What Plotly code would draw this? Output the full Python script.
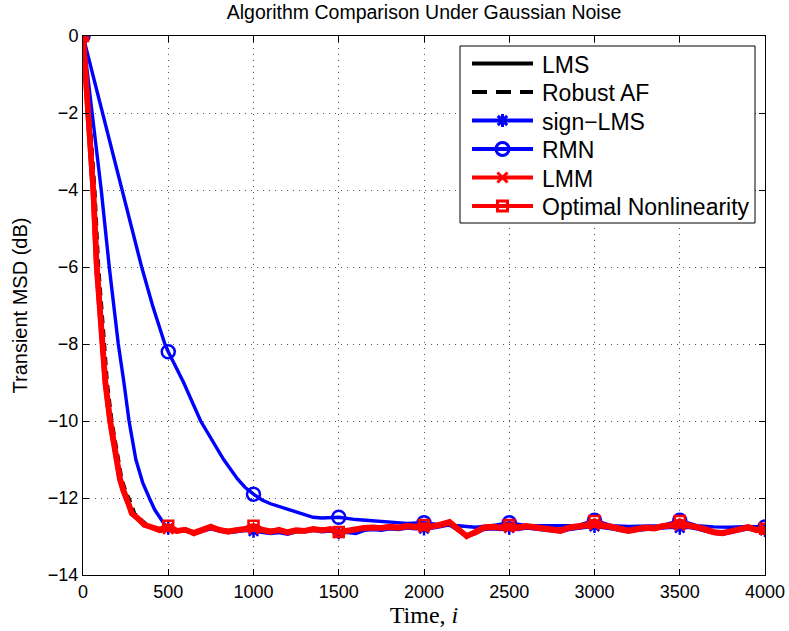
import plotly.graph_objects as go

# ---------------- data ----------------
TITLE = "Algorithm Comparison Under Gaussian Noise"
X_TICKS = [0, 500, 1000, 1500, 2000, 2500, 3000, 3500, 4000]
Y_TICKS = [-14, -12, -10, -8, -6, -4, -2, 0]
Y_TICKTEXT = ["\u221214", "\u221212", "\u221210", "\u22128", "\u22126", "\u22124", "\u22122", "0"]

TAIL_T = list(range(500, 4001, 50))

# Optimal Nonlinearity
opt_head_t = [0, 20, 40, 60, 80, 100, 113, 130, 158, 175, 193, 215, 235, 256, 270, 285, 300, 330, 360, 400, 450]
opt_head_y = [0, -1.3, -2.6, -4.0, -6.0, -7.2, -8.0, -9.0, -10.0, -10.5, -11.0, -11.5, -11.8, -12.0, -12.2,
              -12.4, -12.45, -12.55, -12.7, -12.75, -12.82]
opt_tail_y = [-12.72, -12.85, -12.83, -12.90, -12.82, -12.74, -12.84, -12.86, -12.83, -12.80,
              -12.72, -12.82, -12.86, -12.84, -12.88, -12.83, -12.85, -12.80, -12.83, -12.82,
              -12.88, -12.84, -12.80, -12.77, -12.76, -12.78, -12.74, -12.76, -12.72, -12.74,
              -12.70, -12.73, -12.68, -12.62, -12.80, -13.00, -12.88, -12.76, -12.74, -12.76,
              -12.70, -12.76, -12.72, -12.75, -12.78, -12.80, -12.84, -12.76, -12.72, -12.70,
              -12.60, -12.70, -12.74, -12.80, -12.84, -12.80, -12.76, -12.78, -12.72, -12.70,
              -12.60, -12.70, -12.74, -12.80, -12.88, -12.90, -12.86, -12.82, -12.75, -12.82,
              -12.80]

# LMM
lmm_head_t = [0, 20, 40, 60, 80, 100, 115, 132, 160, 178, 196, 218, 238, 258, 272, 288, 300, 330, 360, 400, 450]
lmm_head_y = [0, -1.3, -2.6, -4.0, -5.9, -7.1, -8.0, -9.0, -10.0, -10.5, -11.0, -11.5, -11.8, -12.0, -12.2,
              -12.4, -12.45, -12.58, -12.7, -12.76, -12.84]
lmm_tail_y = [-12.80, -12.86, -12.82, -12.92, -12.84, -12.76, -12.82, -12.88, -12.84, -12.82,
              -12.80, -12.84, -12.88, -12.82, -12.90, -12.85, -12.86, -12.82, -12.84, -12.80,
              -12.90, -12.86, -12.82, -12.78, -12.78, -12.76, -12.76, -12.78, -12.74, -12.76,
              -12.76, -12.74, -12.70, -12.64, -12.82, -12.98, -12.90, -12.78, -12.76, -12.78,
              -12.76, -12.78, -12.74, -12.77, -12.80, -12.82, -12.86, -12.78, -12.74, -12.72,
              -12.70, -12.72, -12.76, -12.82, -12.86, -12.82, -12.78, -12.80, -12.74, -12.72,
              -12.72, -12.72, -12.76, -12.82, -12.90, -12.92, -12.88, -12.84, -12.77, -12.84,
              -12.82]

# LMS
lms_head_t = [0, 20, 40, 62, 82, 102, 116, 134, 162, 180, 198, 220, 240, 260, 275, 290, 305, 335, 365, 405, 450]
lms_head_y = [0, -1.3, -2.6, -4.0, -5.9, -7.1, -8.0, -9.0, -10.0, -10.5, -11.0, -11.5, -11.8, -12.0, -12.2,
              -12.4, -12.47, -12.6, -12.7, -12.76, -12.82]
lms_tail_y = [-12.82, -12.84, -12.84, -12.88, -12.82, -12.78, -12.84, -12.86, -12.82, -12.80,
              -12.82, -12.82, -12.86, -12.84, -12.88, -12.84, -12.84, -12.80, -12.84, -12.82,
              -12.86, -12.84, -12.80, -12.78, -12.76, -12.78, -12.74, -12.76, -12.73, -12.74,
              -12.74, -12.73, -12.69, -12.64, -12.80, -12.98, -12.88, -12.77, -12.74, -12.76,
              -12.74, -12.76, -12.72, -12.75, -12.78, -12.80, -12.84, -12.76, -12.73, -12.71,
              -12.68, -12.71, -12.74, -12.80, -12.84, -12.80, -12.76, -12.78, -12.73, -12.71,
              -12.70, -12.71, -12.74, -12.80, -12.88, -12.90, -12.86, -12.82, -12.76, -12.82,
              -12.80]

# Robust AF
rob_head_t = [0, 25, 50, 72, 94, 115, 128, 145, 172, 190, 208, 230, 252, 272, 290, 305, 320, 350, 380, 420, 460]
rob_head_y = [0, -1.3, -2.6, -4.0, -6.0, -7.2, -8.0, -9.0, -10.0, -10.5, -11.0, -11.5, -11.8, -12.0, -12.2,
              -12.4, -12.45, -12.58, -12.7, -12.76, -12.82]
rob_tail_y = [-12.80, -12.84, -12.84, -12.88, -12.82, -12.78, -12.84, -12.86, -12.82, -12.80,
              -12.80, -12.82, -12.86, -12.84, -12.88, -12.84, -12.84, -12.80, -12.84, -12.82,
              -12.86, -12.84, -12.80, -12.78, -12.76, -12.78, -12.74, -12.76, -12.73, -12.74,
              -12.74, -12.73, -12.69, -12.64, -12.80, -12.98, -12.88, -12.77, -12.74, -12.76,
              -12.74, -12.76, -12.72, -12.75, -12.78, -12.80, -12.84, -12.76, -12.73, -12.71,
              -12.68, -12.71, -12.74, -12.80, -12.84, -12.80, -12.76, -12.78, -12.73, -12.71,
              -12.70, -12.71, -12.74, -12.80, -12.88, -12.90, -12.86, -12.82, -12.76, -12.82,
              -12.80]

# sign-LMS
sgn_head_t = [0, 55, 107, 154, 207, 240, 270, 310, 350, 389, 420, 450, 480]
sgn_head_y = [0, -2.0, -4.0, -6.0, -8.0, -9.0, -10.0, -11.0, -11.6, -12.0, -12.3, -12.5, -12.7]
sgn_tail_y = [-12.78, -12.86, -12.86, -12.92, -12.86, -12.80, -12.86, -12.90, -12.88, -12.84,
              -12.86, -12.88, -12.92, -12.90, -12.94, -12.88, -12.88, -12.84, -12.88, -12.86,
              -12.90, -12.90, -12.92, -12.84, -12.82, -12.84, -12.80, -12.82, -12.78, -12.80,
              -12.80, -12.78, -12.74, -12.70, -12.84, -13.00, -12.92, -12.82, -12.80, -12.82,
              -12.78, -12.82, -12.78, -12.80, -12.84, -12.84, -12.88, -12.82, -12.78, -12.76,
              -12.74, -12.76, -12.80, -12.84, -12.88, -12.84, -12.82, -12.82, -12.78, -12.76,
              -12.78, -12.76, -12.80, -12.86, -12.92, -12.94, -12.90, -12.86, -12.80, -12.86,
              -12.84]

# RMN
rmn_t = [0, 115, 230, 290, 344, 408, 480, 500, 590, 690, 755, 825, 905, 950, 1000, 1050, 1100, 1150, 1200,
         1250, 1300, 1350, 1400, 1450, 1500, 1600, 1700, 1800, 1900, 2000, 2100, 2200, 2300, 2400,
         2500, 2600, 2700, 2800, 2900, 3000, 3100, 3200, 3300, 3400, 3500, 3600, 3700, 3800, 3900, 4000]
rmn_y = [0, -2.0, -4.0, -5.0, -6.0, -7.0, -8.0, -8.2, -9.0, -10.0, -10.5, -11.0, -11.5, -11.72, -11.9,
         -12.05, -12.15, -12.22, -12.3, -12.36, -12.44, -12.5, -12.52, -12.52, -12.5, -12.56, -12.6,
         -12.63, -12.66, -12.64, -12.7, -12.72, -12.76, -12.72, -12.64, -12.72, -12.72, -12.74, -12.72,
         -12.58, -12.72, -12.74, -12.73, -12.72, -12.58, -12.72, -12.75, -12.76, -12.74, -12.75]

SERIES = [
    # name, t, y, color, width, dash, marker symbol, marker size
    ("LMS", lms_head_t + TAIL_T, lms_head_y + lms_tail_y, "black", 3, "solid", None, 0),
    ("Robust AF", rob_head_t + TAIL_T, rob_head_y + rob_tail_y, "black", 2.5, "8px,6px", None, 0),
    ("sign\u2212LMS", sgn_head_t + TAIL_T, sgn_head_y + sgn_tail_y, "#0000ff", 3.4, "solid", "asterisk-open", 11),
    ("RMN", rmn_t, rmn_y, "#0000ff", 3.4, "solid", "circle-open", 13),
    ("LMM", lmm_head_t + TAIL_T, lmm_head_y + lmm_tail_y, "#ff0000", 5.5, "solid", "x-thin-open", 10),
    ("Optimal Nonlinearity", opt_head_t + TAIL_T, opt_head_y + opt_tail_y, "#ff0000", 5.5, "solid", "square-open", 10),
]

FONT = "Liberation Sans, Arial, Helvetica, sans-serif"

# plot area in pixels (for the hand-drawn legend overlay)
PX_L, PX_R, PX_T, PX_B = 83, 765, 36, 575
LEG_BOX = (460, 755, 46, 223)
LEG_ROW0, LEG_ROWSTEP = 63.5, 28.5
LEG_LINE = (472, 533)
LEG_TEXT_X = 540

fig = go.Figure()
for name, t, y, color, width, dash, sym, msize in SERIES:
    fig.add_trace(go.Scatter(x=t, y=y, mode="lines", showlegend=False, hoverinfo="skip",
                             line=dict(color=color, width=width, dash=dash)))
    if sym:
        mt = [a for a in t if a % 500 == 0]
        my = [b for a, b in zip(t, y) if a % 500 == 0]
        fig.add_trace(go.Scatter(x=mt, y=my, mode="markers", showlegend=False,
                                 marker=dict(symbol=sym, size=msize, color=color,
                                             line=dict(color=color, width=2.5))))

# ---- legend box (overlay axes in pixel coordinates) ----
bx0, bx1, by0, by1 = LEG_BOX
fig.add_trace(go.Scatter(x=[bx0, bx1, bx1, bx0, bx0], y=[by0, by0, by1, by1, by0],
                         xaxis="x2", yaxis="y2", mode="lines", fill="toself",
                         fillcolor="white", line=dict(color="black", width=1),
                         showlegend=False, hoverinfo="skip"))
annotations = []
for k, (name, t, y, color, width, dash, sym, msize) in enumerate(SERIES):
    yc = LEG_ROW0 + k * LEG_ROWSTEP
    fig.add_trace(go.Scatter(x=list(LEG_LINE), y=[yc, yc], xaxis="x2", yaxis="y2", mode="lines",
                             line=dict(color=color, width=4,
                                       dash="15px,9px" if dash != "solid" else "solid"),
                             showlegend=False, hoverinfo="skip"))
    if sym:
        fig.add_trace(go.Scatter(x=[(LEG_LINE[0] + LEG_LINE[1]) / 2], y=[yc], xaxis="x2", yaxis="y2",
                                 mode="markers", showlegend=False, hoverinfo="skip",
                                 marker=dict(symbol=sym, size=msize, color=color,
                                             line=dict(color=color, width=3))))
    annotations.append(dict(x=LEG_TEXT_X, y=yc + 1, xref="x2", yref="y2", text=name, showarrow=False,
                            xanchor="left", yanchor="middle", font=dict(size=23, family=FONT, color="black")))

fig.update_layout(
    width=789, height=631,
    margin=dict(l=PX_L, r=789 - PX_R, t=PX_T, b=631 - PX_B),
    paper_bgcolor="white", plot_bgcolor="white",
    font=dict(family=FONT, color="black", size=18),
    title=dict(text=TITLE, x=0.5, xref="paper", y=0.992, yanchor="top",
               font=dict(size=19.5, family=FONT)),
    showlegend=False,
    annotations=annotations,
    xaxis2=dict(overlaying="x", range=[PX_L, PX_R], visible=False, fixedrange=True),
    yaxis2=dict(overlaying="y", range=[PX_B, PX_T], visible=False, fixedrange=True),
    xaxis=dict(range=[0, 4000], tickvals=X_TICKS, ticks="inside", ticklen=6, tickcolor="black",
               showline=True, linecolor="black", linewidth=1, mirror="ticks", automargin=False,
               showgrid=True, gridcolor="#555555", griddash="1px,5px", gridwidth=1, zeroline=False,
               tickfont=dict(size=18),
               title=dict(text="Time, <i>i</i>", standoff=5,
                          font=dict(family="Liberation Serif, DejaVu Serif, serif", size=24))),
    yaxis=dict(range=[-14, 0], tickvals=Y_TICKS, ticktext=Y_TICKTEXT,
               ticks="inside", ticklen=6, tickcolor="black", automargin=False,
               showline=True, linecolor="black", linewidth=1, mirror="ticks",
               showgrid=True, gridcolor="#555555", griddash="1px,5px", gridwidth=1, zeroline=False,
               tickfont=dict(size=18),
               title=dict(text="Transient MSD (dB)", standoff=14, font=dict(size=20))),
)

fig.write_html("out.html")
